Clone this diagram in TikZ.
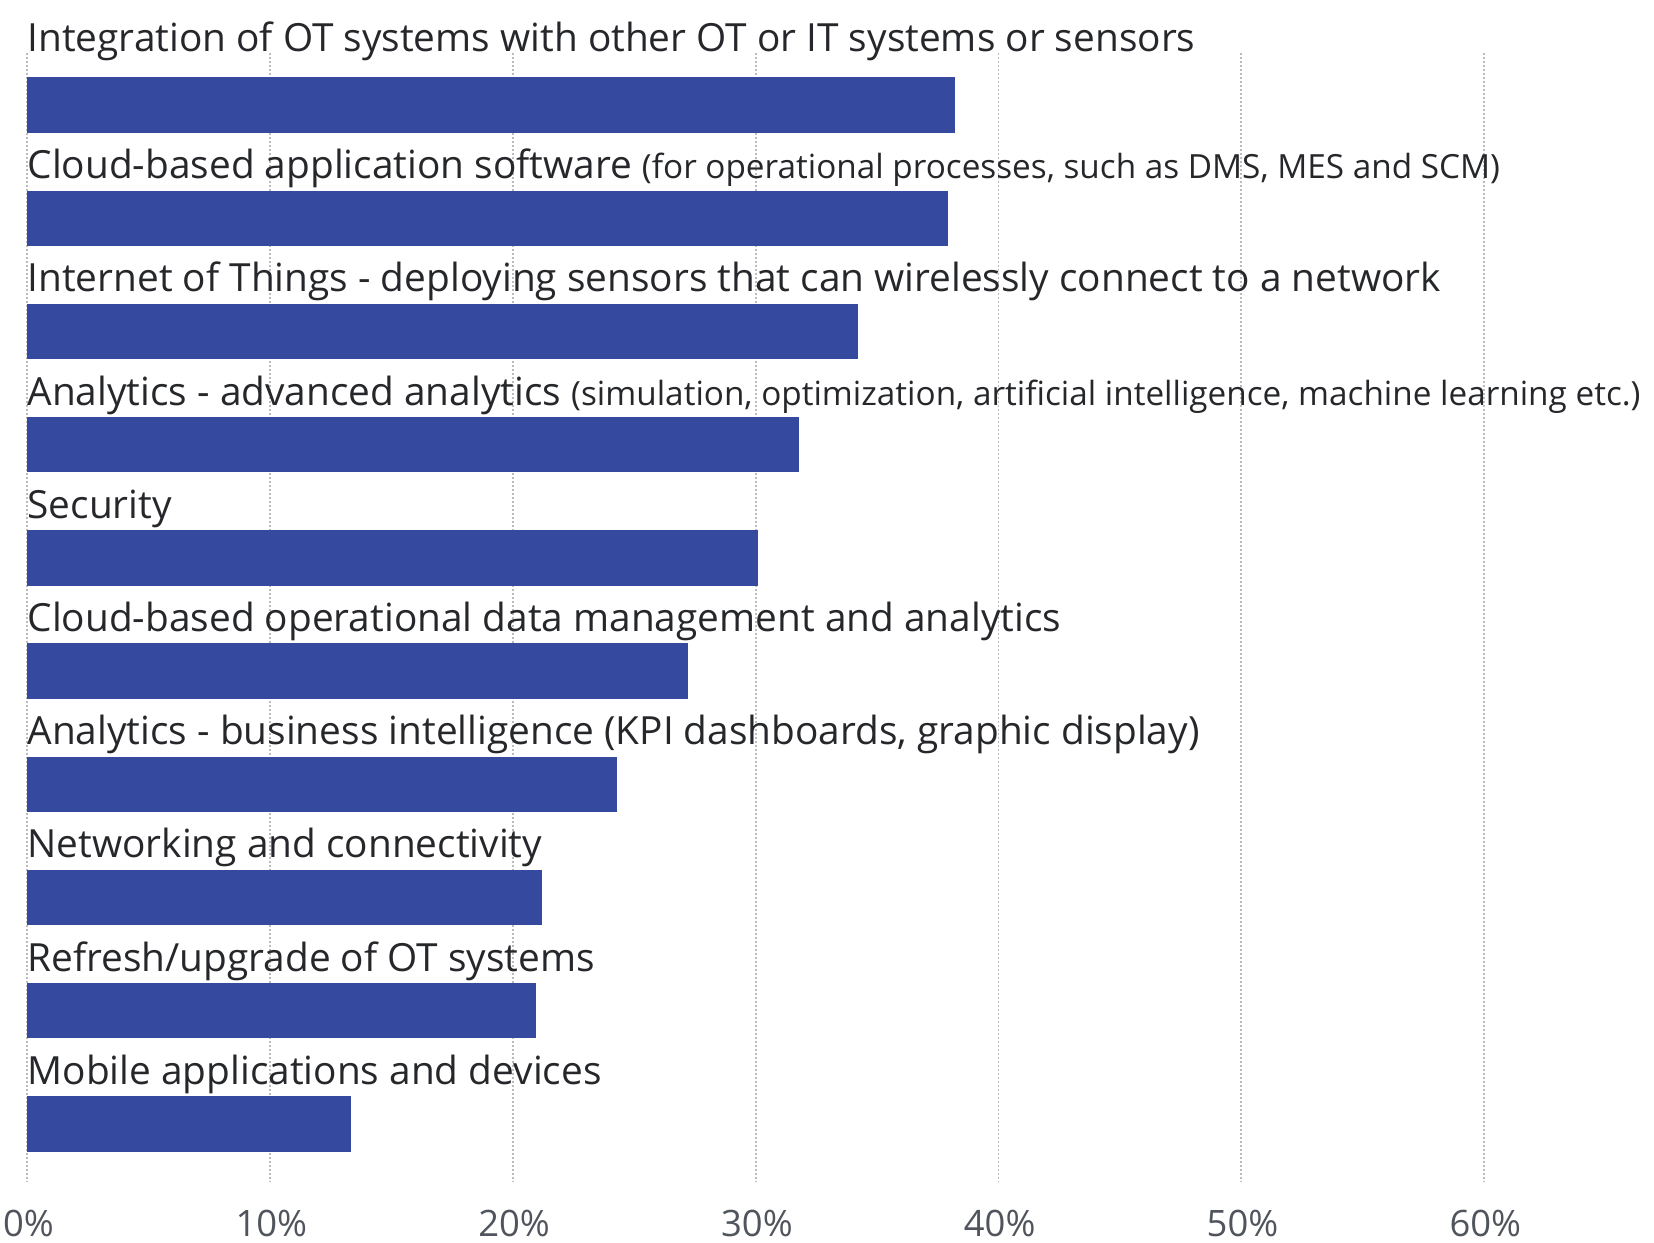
\documentclass[tikz,border=0pt]{standalone}
\usepackage{fontspec}
\setmainfont{Open Sans}
\definecolor{barblue}{HTML}{354A9E}
\definecolor{gridgray}{HTML}{BBBBBB}
\definecolor{labeltext}{HTML}{25272A}
\definecolor{axistext}{HTML}{50545C}
\newcommand{\labfont}{\fontsize{19.4pt}{24pt}\selectfont}
\newcommand{\smfont}{\fontsize{16.65pt}{20pt}\selectfont}
\newcommand{\axfont}{\fontsize{18.2pt}{22pt}\selectfont}
\begin{document}
\begin{tikzpicture}[x=0.5pt,y=-0.5pt,
  gridline/.style={gridgray, line width=0.9pt, dash pattern=on 0.9pt off 1.1pt},
  bar/.style={fill=barblue},
  barlabel/.style={anchor=base west, inner sep=0pt, text=labeltext, font=\labfont},
  ticklabel/.style={anchor=base, inner sep=0pt, text=axistext, font=\axfont}]
\useasboundingbox (0,0) rectangle (1654,1242);
\foreach \i/\t in {0/0,1/10,2/20,3/30,4/40,5/50,6/60} {
  \coordinate (gt\i) at (27.3+242.8*\i, 52.7);
  \coordinate (gb\i) at (27.3+242.8*\i, 1181.7);
  \draw[gridline] (gt\i) -- (gb\i);
  \node[ticklabel] (tick\i) at (28.5+242.8*\i, 1236) {\t\%};
}
\foreach \k/\v in {1/38.2,2/37.9,3/34.2,4/31.8,5/30.1,6/27.2,7/24.3,8/21.2,9/20.95,10/13.35} {
  \fill[bar] (27.3, 77.3+113.2*\k-113.2) rectangle (27.3+24.28*\v, 132.8+113.2*\k-113.2);
}
\node[barlabel] (l1) at (27.2, 51.7) {Integration of OT systems with other OT or IT systems or sensors};
\node[barlabel] (l2) at (27.2, 65.5+113.2) {Cloud-based application software {\smfont (for operational processes, such as DMS, MES and SCM)}};
\node[barlabel] (l3) at (27.2, 65.5+113.2*2) {Internet of Things - deploying sensors that can wirelessly connect to a network};
\node[barlabel] (l4) at (27.2, 65.5+113.2*3) {Analytics - advanced analytics {\smfont (simulation, optimization, artificial intelligence, machine learning etc.)}};
\node[barlabel] (l5) at (27.2, 65.5+113.2*4) {Security};
\node[barlabel] (l6) at (27.2, 65.5+113.2*5) {Cloud-based operational data management and analytics};
\node[barlabel] (l7) at (27.2, 65.5+113.2*6) {Analytics - business intelligence (KPI dashboards, graphic display)};
\node[barlabel] (l8) at (27.2, 65.5+113.2*7) {Networking and connectivity};
\node[barlabel] (l9) at (27.2, 65.5+113.2*8) {Refresh/upgrade of OT systems};
\node[barlabel] (l10) at (27.2, 65.5+113.2*9) {Mobile applications and devices};
\end{tikzpicture}
\end{document}
